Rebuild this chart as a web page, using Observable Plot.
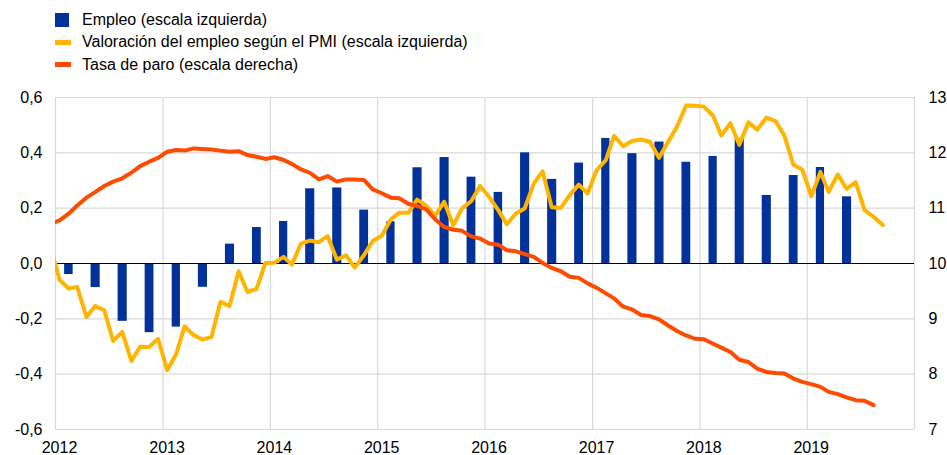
<!DOCTYPE html>
<html><head><meta charset="utf-8">
<script src="https://cdn.jsdelivr.net/npm/d3@7"></script>
<script src="https://cdn.jsdelivr.net/npm/@observablehq/plot@0.6"></script>
<style>
body{margin:0;background:#fff;font-family:"Liberation Sans",Arial,sans-serif;}
#wrap{width:947px;height:455px;position:relative;overflow:hidden;background:#fff}
#legend{position:absolute;left:55px;top:9px;font-size:16px;line-height:22.3px;color:#000}
.item{display:flex;align-items:center;height:22.3px;white-space:nowrap}
.sq{width:14px;height:14px;margin-right:13px}
.ln{width:16px;height:4.5px;margin-right:11px}
#chart{position:absolute;left:0;top:80px}
</style></head><body>
<div id="wrap"><div id="legend"></div><div id="chart"></div></div>
<script>
// Series names
const seriesNames = ["Empleo (escala izquierda)", "Valoración del empleo según el PMI (escala izquierda)", "Tasa de paro (escala derecha)"];
const seriesColors = ["#003299", "#FFB400", "#FF4B00"];

// Quarterly employment growth (q-o-q %), 2012 Q1 – 2019 Q2
const empleoStart = [2012, 1];
const empleo = [
  -0.04, -0.087, -0.209, -0.25,
  -0.23, -0.086, 0.07, 0.13,
  0.152, 0.27, 0.273, 0.193,
  0.151, 0.346, 0.383, 0.312,
  0.257, 0.4, 0.304, 0.363,
  0.452, 0.397, 0.439, 0.366,
  0.387, 0.45, 0.246, 0.318,
  0.347, 0.241
];

// Monthly PMI employment assessment (left scale), Dec 2011 – Sep 2019
const pmiStart = [2011, 12];
const pmi = [
  0.06,
  -0.06, -0.09, -0.085, -0.193, -0.154, -0.169, -0.28, -0.247, -0.352, -0.301, -0.302, -0.272,
  -0.386, -0.326, -0.227, -0.259, -0.275, -0.265, -0.138, -0.154, -0.028, -0.103, -0.092, 0.002,
  0.003, 0.024, -0.004, 0.072, 0.083, 0.077, 0.099, 0.014, 0.03, -0.015, 0.03, 0.081,
  0.1, 0.16, 0.183, 0.183, 0.231, 0.209, 0.172, 0.223, 0.138, 0.199, 0.225, 0.28,
  0.241, 0.193, 0.142, 0.181, 0.199, 0.289, 0.333, 0.203, 0.201, 0.247, 0.285, 0.253,
  0.338, 0.374, 0.461, 0.424, 0.443, 0.448, 0.44, 0.382, 0.44, 0.494, 0.571, 0.57,
  0.567, 0.534, 0.463, 0.507, 0.429, 0.51, 0.484, 0.527, 0.515, 0.463, 0.357, 0.34,
  0.243, 0.331, 0.259, 0.322, 0.27, 0.294, 0.193, 0.169, 0.139
];

// Monthly unemployment rate (right scale, %), Dec 2011 – Aug 2019
const paroStart = [2011, 12];
const paro = [
  10.72,
  10.78, 10.9, 11.05, 11.19, 11.29, 11.4, 11.48, 11.54, 11.64, 11.76, 11.84, 11.91,
  12.02, 12.05, 12.04, 12.08, 12.07, 12.06, 12.04, 12.02, 12.03, 11.96, 11.93, 11.89,
  11.92, 11.87, 11.8, 11.7, 11.64, 11.52, 11.58, 11.48, 11.52, 11.52, 11.51, 11.34,
  11.27, 11.19, 11.18, 11.08, 11.04, 10.98, 10.8, 10.66, 10.61, 10.59, 10.49, 10.45,
  10.36, 10.34, 10.24, 10.22, 10.17, 10.12, 10.01, 9.92, 9.86, 9.76, 9.74, 9.64,
  9.56, 9.46, 9.37, 9.22, 9.17, 9.07, 9.05, 8.99, 8.88, 8.78, 8.7, 8.64,
  8.63, 8.55, 8.48, 8.4, 8.26, 8.22, 8.1, 8.04, 8.02, 8.01, 7.92, 7.86,
  7.82, 7.77, 7.68, 7.64, 7.58, 7.53, 7.52, 7.44
];

// Axis ticks
const leftTicks = [-0.6, -0.4, -0.2, 0, 0.2, 0.4, 0.6];
const rightTicks = [7, 8, 9, 10, 11, 12, 13];
const yearLabels = [2012, 2013, 2014, 2015, 2016, 2017, 2018, 2019];
const yearGrid = [2012, 2013, 2014, 2015, 2016, 2017, 2018, 2019, 2020];

// Build tables
const empleoData = empleo.map((v, i) => {
  const q = i + (empleoStart[1] - 1);
  const yr = empleoStart[0] + Math.floor(q / 4), qi = q % 4;
  return {x1: new Date(Date.UTC(yr, qi * 3 + 1, 1)), x2: new Date(Date.UTC(yr, qi * 3 + 2, 1)), v};
});
const pmiData = pmi.map((v, i) => ({x: new Date(Date.UTC(pmiStart[0], pmiStart[1] - 1 + i, 15)), v}));
const paroData = paro.map((v, i) => ({x: new Date(Date.UTC(paroStart[0], paroStart[1] - 1 + i, 15)), v}));
const toLeft = r => (r - 10) / 5;

// Legend
const legend = document.getElementById("legend");
seriesNames.forEach((name, i) => {
  const it = document.createElement("div");
  it.className = "item";
  const sw = document.createElement("span");
  sw.className = i === 0 ? "sq" : "ln";
  sw.style.background = seriesColors[i];
  it.appendChild(sw);
  const t = document.createElement("span");
  t.textContent = name;
  it.appendChild(t);
  legend.appendChild(it);
});

const grid = "#d9d9d9";
const chart = Plot.plot({
  width: 947, height: 375,
  marginLeft: 55, marginRight: 33, marginTop: 17, marginBottom: 26,
  style: {fontFamily: "'Liberation Sans', Arial, sans-serif", fontSize: "16px", color: "#000", background: "#fff"},
  x: {type: "utc", domain: [new Date(Date.UTC(yearGrid[0], 0, 1)), new Date(Date.UTC(yearGrid[yearGrid.length - 1], 0, 1))], axis: null},
  y: {domain: [leftTicks[0], leftTicks[leftTicks.length - 1]], axis: null},
  marks: [
    Plot.ruleY(leftTicks, {stroke: grid, strokeWidth: 1.2}),
    Plot.ruleX(yearGrid.map(y => new Date(Date.UTC(y, 0, 1))), {stroke: grid, strokeWidth: 1.2}),
    Plot.rectY(empleoData, {x1: "x1", x2: "x2", y: "v", fill: seriesColors[0], inset: 0}),
    Plot.ruleY([0], {stroke: "#000", strokeWidth: 1.2}),
    Plot.line(pmiData, {x: "x", y: "v", stroke: seriesColors[1], strokeWidth: 4, clip: true}),
    Plot.line(paroData, {x: "x", y: d => toLeft(d.v), stroke: seriesColors[2], strokeWidth: 4, clip: true}),
    Plot.axisY(leftTicks, {anchor: "left", tickSize: 0, tickPadding: 13, label: null, tickFormat: d => d.toFixed(1).replace(".", ",")}),
    Plot.axisY(rightTicks.map(toLeft), {anchor: "right", tickSize: 0, tickPadding: 14, label: null, tickFormat: d => String(Math.round(d * 5 + 10))}),
    Plot.axisX(yearLabels.map(y => new Date(Date.UTC(y, 0, 1))), {anchor: "bottom", tickSize: 0, tickPadding: 12.6, dx: 4, label: null, tickFormat: d => String(d.getUTCFullYear())})
  ]
});
document.getElementById("chart").appendChild(chart);
</script></body></html>
